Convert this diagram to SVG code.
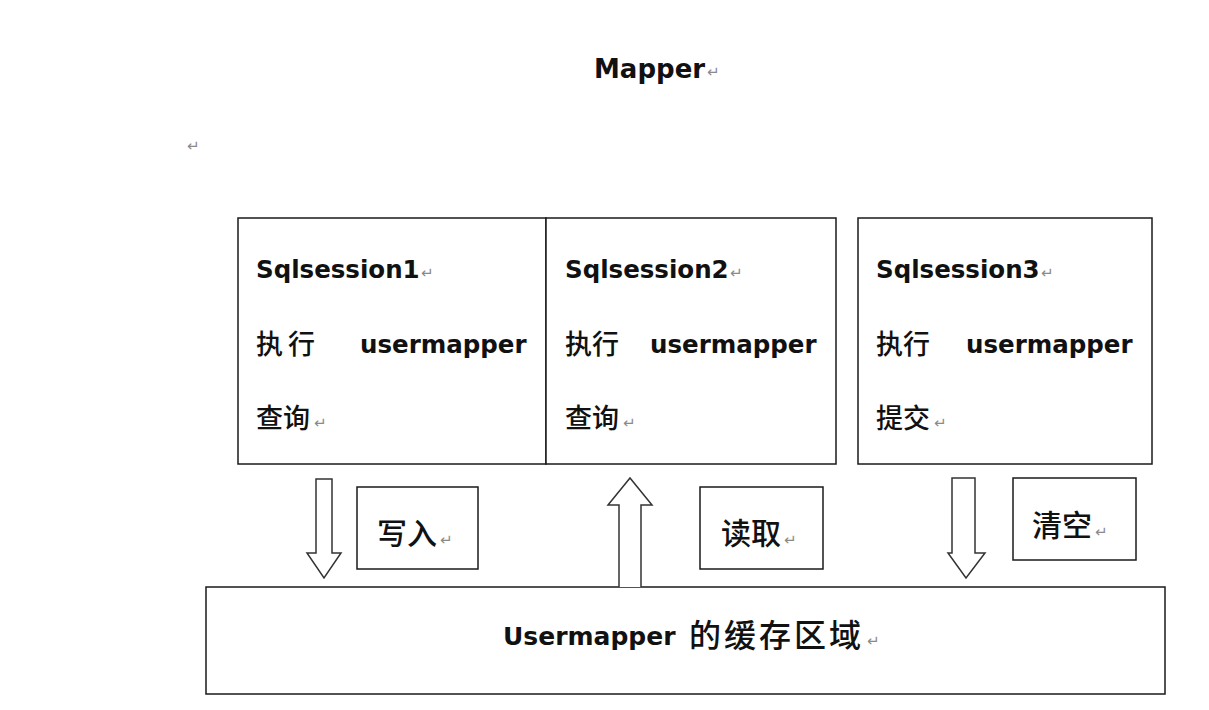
<svg xmlns="http://www.w3.org/2000/svg" width="1209" height="710" viewBox="0 0 1209 710">
<style>
.box{fill:#fff;stroke:#1a1a1a;stroke-width:1.5}
.arr{fill:#fff;stroke:#333;stroke-width:1.5;stroke-linejoin:miter}
.en{font-family:"DejaVu Sans","Noto Sans",sans-serif;font-weight:bold;fill:#111}
.cj{font-family:"Noto Sans CJK SC",sans-serif;font-weight:500;fill:#111}
.pm{font-family:"DejaVu Sans",sans-serif;font-size:15px;fill:#8a8a8a}
</style>
<rect width="1209" height="710" fill="#fff"/>
<g id="title">
<text class="en" x="594" y="78" font-size="26">Mapper</text>
<text class="pm" x="707" y="77">↵</text>
</g>
<text class="pm" x="187" y="151">↵</text>
<g id="session1">
<rect class="box" x="238" y="218" width="308" height="246"/>
<text class="en" x="256" y="278" font-size="24.5">Sqlsession1</text>
<text class="pm" x="421" y="278">↵</text>
<text class="cj" x="256" y="354" font-size="27">执</text>
<text class="cj" x="288" y="354" font-size="27">行</text>
<text class="en" x="360" y="353" font-size="24.5">usermapper</text>
<text class="cj" x="256" y="428" font-size="27">查询</text>
<text class="pm" x="314" y="428">↵</text>
</g>
<g id="session2">
<rect class="box" x="546" y="218" width="290" height="246"/>
<text class="en" x="565" y="278" font-size="24.5">Sqlsession2</text>
<text class="pm" x="730" y="278">↵</text>
<text class="cj" x="565" y="354" font-size="27">执行</text>
<text class="en" x="650" y="353" font-size="24.5">usermapper</text>
<text class="cj" x="565" y="428" font-size="27">查询</text>
<text class="pm" x="623" y="428">↵</text>
</g>
<g id="session3">
<rect class="box" x="858" y="218" width="294" height="246"/>
<text class="en" x="876" y="278" font-size="24.5">Sqlsession3</text>
<text class="pm" x="1041" y="278">↵</text>
<text class="cj" x="876" y="354" font-size="27">执行</text>
<text class="en" x="966" y="353" font-size="24.5">usermapper</text>
<text class="cj" x="876" y="428" font-size="27">提交</text>
<text class="pm" x="934" y="428">↵</text>
</g>
<g id="cache">
<rect class="box" x="206" y="587" width="959" height="107"/>
<text class="en" x="503" y="645" font-size="25">Usermapper</text>
<text class="cj" x="689" y="647" font-size="32" letter-spacing="3">的缓存区域</text>
<text class="pm" x="867" y="646">↵</text>
</g>
<g id="label-write">
<rect class="box" x="357" y="487" width="121" height="82"/>
<text class="cj" x="377" y="544" font-size="30">写入</text>
<text class="pm" x="440" y="545">↵</text>
</g>
<g id="label-read">
<rect class="box" x="700" y="487" width="123" height="82"/>
<text class="cj" x="721" y="544" font-size="30">读取</text>
<text class="pm" x="784" y="545">↵</text>
</g>
<g id="label-clear">
<rect class="box" x="1013" y="478" width="123" height="82"/>
<text class="cj" x="1032" y="536" font-size="30">清空</text>
<text class="pm" x="1095" y="537">↵</text>
</g>
<g id="connectors">
<path class="arr" d="M316,479 L332,479 L332,553 L341,553 L324,578 L307,553 L316,553 Z"/>
<path class="arr" d="M619,587 L619,505 L608,505 L630,478 L652,505 L641,505 L641,587"/>
<path class="arr" d="M952,478 L975,478 L975,553 L985,553 L966,578 L948,553 L952,553 Z"/>
</g>
</svg>
